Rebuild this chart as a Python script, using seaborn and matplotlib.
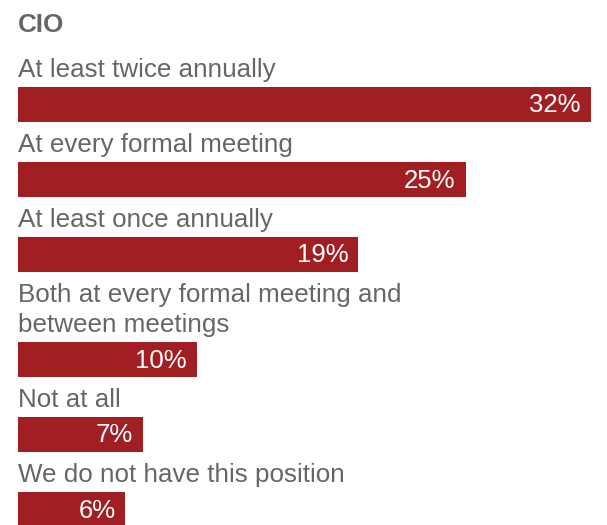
import numpy as np
import matplotlib
matplotlib.use('Agg')
import matplotlib.pyplot as plt
import matplotlib.transforms as mtransforms
import seaborn as sns

# data
title = 'CIO'
labels = [
    'At least twice annually',
    'At every formal meeting',
    'At least once annually',
    'Both at every formal meeting and\nbetween meetings',
    'Not at all',
    'We do not have this position',
]
values = [32, 25, 19, 10, 7, 6]

sns.set_theme(style='white')
plt.rcParams['font.family'] = ['Liberation Sans', 'DejaVu Sans']

bar_color = '#a11f23'
text_gray = '#666666'
fs = 18.7
fs_pct = 18.5

# layout in pixels (y axis runs top -> bottom in figure pixels)
W, H = 607, 525
bar_h = 35
line_h = 30
first_baseline = 77
gap_below_bar = 30.5
gap_above_bar = 9.5

baselines = []
centers = []
y = first_baseline
for lab in labels:
    lines = lab.split('\n')
    bl = [y + i * line_h for i in range(len(lines))]
    baselines.append(bl)
    top = bl[-1] + gap_above_bar
    centers.append(top + bar_h / 2)
    y = top + bar_h + gap_below_bar
centers = np.array(centers)

fig = plt.figure(figsize=(W / 100, H / 100), dpi=100)
ax = fig.add_axes([0, 0, 1, 1])

px = 573 / max(values)  # pixels per percent
sns.barplot(x=values, y=centers, orient='h', native_scale=True,
            width=bar_h / np.diff(centers).min(), color=bar_color,
            saturation=1, errorbar=None, ax=ax, linewidth=0)

ax.set_xlim(-18 / px, (W - 18) / px)
ax.set_ylim(H, 0)
ax.axis('off')

ax.text(0, 32, title, fontsize=fs, fontweight='bold', color=text_gray,
        ha='left', va='baseline')

pct_trans = mtransforms.offset_copy(ax.transData, fig=fig, x=-10, y=0, units='dots')
for lab, bl, c, v in zip(labels, baselines, centers, values):
    for line, b in zip(lab.split('\n'), bl):
        ax.text(0, b, line, fontsize=fs, color=text_gray, ha='left', va='baseline')
    ax.text(v, c + 8.5, f'{v}%', fontsize=fs_pct, color='white',
            ha='right', va='baseline', transform=pct_trans)

fig.savefig('out.png', dpi=100)
